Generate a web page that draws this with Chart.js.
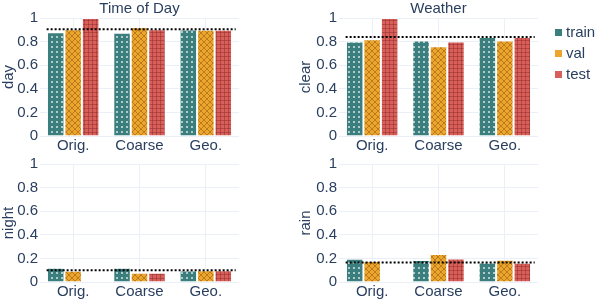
<!DOCTYPE html>
<html><head><meta charset="utf-8">
<script src="https://cdn.jsdelivr.net/npm/chart.js@4.4.1/dist/chart.umd.min.js"></script>
<style>
body{margin:0;width:598px;height:301px;overflow:hidden;background:#fff;font-family:"Liberation Sans",Arial,sans-serif;}
.p{position:absolute;}
.lg{position:absolute;left:0;font-size:15px;color:#2a3f5f;line-height:18px;white-space:nowrap;}
.sw{position:absolute;width:7px;height:7px;}
</style></head><body>
<div class="p" style="left:0;top:0"><canvas id="c0" width="300" height="160"></canvas></div>
<div class="p" style="left:297px;top:0"><canvas id="c1" width="301" height="160"></canvas></div>
<div class="p" style="left:0;top:146px"><canvas id="c2" width="300" height="155"></canvas></div>
<div class="p" style="left:297px;top:146px"><canvas id="c3" width="301" height="155"></canvas></div>
<div class="p" id="legend" style="left:553px;top:0;width:45px;height:100px"></div>
<script>
// ---- data ----
const categories = ["Orig.", "Coarse", "Geo."];
const seriesNames = ["train", "val", "test"];
const yTickValues = [0, 0.2, 0.4, 0.6, 0.8, 1];
const panelTitles = ["Time of Day", "Weather"];
const rowTitles = ["day", "clear", "night", "rain"];

const dayTrain = [0.88, 0.874, 0.902];
const dayVal   = [0.904, 0.922, 0.9];
const dayTest  = [1.0, 0.904, 0.9];
const dayRef   = 0.904;

const clearTrain = [0.80, 0.81, 0.84];
const clearVal   = [0.82, 0.76, 0.81];
const clearTest  = [1.0, 0.80, 0.84];
const clearRef   = 0.84;

const nightTrain = [0.12, 0.12, 0.098];
const nightVal   = [0.096, 0.078, 0.1];
const nightTest  = [0, 0.078, 0.1];
const nightRef   = 0.1;

const rainTrain = [0.197, 0.186, 0.166];
const rainVal   = [0.178, 0.237, 0.189];
const rainTest  = [0, 0.2, 0.163];
const rainRef   = 0.166;

// ---- style ----
const FONT = '"Liberation Sans", Arial, sans-serif';
const TXT = '#2a3f5f';
const GRID = '#EBF0F8';
const COLORS = ['#3a7e7d', '#eda62d', '#d9605a'];

function makePattern(kind) {
  const c = document.createElement('canvas');
  const g = c.getContext('2d');
  if (kind === 0) {
    c.width = c.height = 5;
    g.fillStyle = COLORS[0]; g.fillRect(0, 0, 5, 5);
    g.fillStyle = 'rgba(255,255,255,0.6)'; g.fillRect(1, 1, 2, 2);
  } else if (kind === 1) {
    c.width = c.height = 6;
    g.fillStyle = COLORS[1]; g.fillRect(0, 0, 6, 6);
    g.strokeStyle = 'rgba(130,80,10,0.55)'; g.lineWidth = 0.9;
    g.beginPath(); g.moveTo(0, 0); g.lineTo(6, 6); g.moveTo(6, 0); g.lineTo(0, 6); g.stroke();
  } else {
    c.width = c.height = 4;
    g.fillStyle = COLORS[2]; g.fillRect(0, 0, 4, 4);
    g.fillStyle = 'rgba(140,40,40,0.45)'; g.fillRect(0, 0, 4, 1); g.fillRect(0, 0, 1, 4);
  }
  return g.createPattern(c, 'repeat');
}
const PATS = [makePattern(0), makePattern(1), makePattern(2)];

const refLinePlugin = {
  id: 'refLine',
  afterDatasetsDraw(chart, args, opts) {
    const x = chart.scales.x, y = chart.scales.y, ctx = chart.ctx;
    const sp = x.getPixelForValue(1) - x.getPixelForValue(0);
    const x0 = x.getPixelForValue(0) - 0.4 * sp;
    const x1 = x.getPixelForValue(categories.length - 1) + 0.45 * sp;
    const yy = y.getPixelForValue(opts.value);
    ctx.save();
    ctx.strokeStyle = '#000'; ctx.lineWidth = 2; ctx.setLineDash([2, 2]);
    ctx.beginPath(); ctx.moveTo(x0, yy); ctx.lineTo(x1, yy); ctx.stroke();
    ctx.restore();
  }
};
const panelTitlePlugin = {
  id: 'panelTitle',
  afterDraw(chart, args, opts) {
    if (!opts.text) return;
    const ctx = chart.ctx, a = chart.chartArea;
    ctx.save();
    ctx.fillStyle = TXT; ctx.font = '15px ' + FONT;
    ctx.textAlign = 'center'; ctx.textBaseline = 'middle';
    ctx.fillText(opts.text, (a.left + a.right) / 2, 9);
    ctx.restore();
  }
};

function makeChart(id, vals, ref, yTitle, title, axisW, padRight, xAxisH) {
  const datasets = seriesNames.map((n, i) => ({
    label: n, data: vals[i], backgroundColor: PATS[i],
    borderColor: 'rgba(255,255,255,0.5)', borderWidth: 1,
    categoryPercentage: 0.79, barPercentage: 1.0
  }));
  return new Chart(document.getElementById(id), {
    type: 'bar',
    data: { labels: categories, datasets },
    options: {
      responsive: false, animation: false, events: [],
      layout: { padding: { top: 18, right: padRight, left: 0, bottom: 0 } },
      plugins: {
        legend: { display: false }, tooltip: { enabled: false },
        refLine: { value: ref }, panelTitle: { text: title }
      },
      scales: {
        x: {
          grid: { offset: false, color: GRID, drawTicks: false },
          border: { display: false },
          ticks: { color: TXT, font: { size: 15, family: FONT }, padding: 1, maxRotation: 0, autoSkip: false },
          afterFit(s) { s.height = xAxisH; }
        },
        y: {
          min: 0, max: 1,
          afterBuildTicks(s) { s.ticks = yTickValues.map(v => ({ value: v })); },
          ticks: {
            color: TXT, font: { size: 15, family: FONT }, padding: 2,
            callback: (v) => String(Math.round(v * 10) / 10)
          },
          grid: { color: GRID, drawTicks: false },
          border: { display: false },
          title: { display: true, text: yTitle, color: TXT, font: { size: 15, family: FONT }, padding: 0 },
          afterFit(s) { s.width = axisW; }
        }
      }
    },
    plugins: [refLinePlugin, panelTitlePlugin]
  });
}

makeChart('c0', [dayTrain, dayVal, dayTest], dayRef, rowTitles[0], panelTitles[0], 40, 61, 24);
makeChart('c1', [clearTrain, clearVal, clearTest], clearRef, rowTitles[1], panelTitles[1], 42, 60, 24);
makeChart('c2', [nightTrain, nightVal, nightTest], nightRef, rowTitles[2], null, 40, 61, 19);
makeChart('c3', [rainTrain, rainVal, rainTest], rainRef, rowTitles[3], null, 42, 60, 19);

// legend
const lg = document.getElementById('legend');
seriesNames.forEach((n, i) => {
  const cy = 32 + i * 21;
  const sw = document.createElement('div');
  sw.className = 'sw';
  sw.style.left = '2px'; sw.style.top = (cy - 3.5) + 'px';
  sw.style.background = COLORS[i];
  lg.appendChild(sw);
  const t = document.createElement('div');
  t.className = 'lg';
  t.style.left = '13px'; t.style.top = (cy - 9) + 'px';
  t.textContent = n;
  lg.appendChild(t);
});
</script>
</body></html>
